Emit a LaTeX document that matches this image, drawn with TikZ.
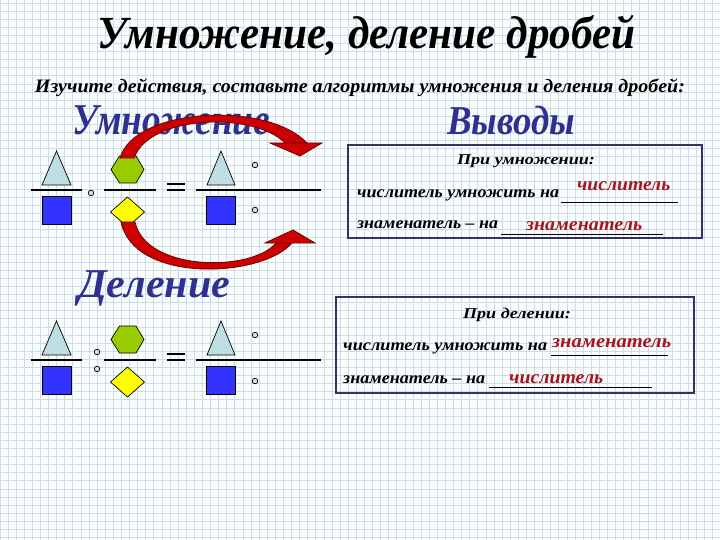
\documentclass[tikz,border=0pt]{standalone}
\usepackage{fontspec}
\setmainfont{Liberation Serif}
\usepackage{graphicx}
\usetikzlibrary{shapes.geometric}
\definecolor{bgc}{RGB}{250,253,253}
\definecolor{gridc}{RGB}{205,220,226}
\definecolor{navy}{RGB}{46,49,146}
\definecolor{redtxt}{RGB}{170,20,30}
\definecolor{tricol}{RGB}{190,222,228}
\definecolor{sqcol}{RGB}{51,51,255}
\definecolor{hexcol}{RGB}{153,204,0}
\definecolor{diacol}{RGB}{255,255,0}
\definecolor{arrfill}{RGB}{204,0,0}
\definecolor{arredge}{RGB}{110,0,0}
\definecolor{boxc}{RGB}{50,50,100}
\definecolor{dotc}{RGB}{215,225,215}
\newcommand\ftxt[3]{\resizebox{#1pt}{\height}{\fontsize{#2pt}{#2pt}\selectfont #3}}
\tikzset{
  txt/.style={inner sep=0pt, font=\bfseries\itshape},
  bigtxt/.style={inner sep=0pt, font=\bfseries\itshape},
  fracline/.style={line width=2.6pt},
  shp/.style={draw=black, line width=0.7pt},
  dotmark/.style={draw=black, fill=dotc, line width=0.7pt},
  arrowbody/.style={fill=arrfill, draw=arredge, line width=0.8pt},
  ublank/.style={line width=0.8pt},
  infobox/.style={draw=boxc, line width=1.3pt}
}
\begin{document}
\begin{tikzpicture}[x=1pt,y=-1pt]
\useasboundingbox (0,0) rectangle (720,540);
\fill[bgc] (0,0) rectangle (720,540);
\foreach \i in {0,...,89} \draw[gridc, line width=0.9pt] (\i*8.1,0) -- (\i*8.1,540);
\foreach \j in {0,...,66} \draw[gridc, line width=0.9pt] (0,\j*8.1+3) -- (720,\j*8.1+3);

% titles
\node[bigtxt, anchor=base] (title) at (367,49) {\ftxt{538}{46}{Умножение, деление дробей}};
\node[txt, anchor=base] (sub) at (360,93) {\ftxt{650}{19}{Изучите действия, составьте алгоритмы умножения и деления дробей:}};
\node[bigtxt, anchor=base west, text=navy] (hmul) at (72,135) {\ftxt{198}{44}{Умножение}};
\node[bigtxt, anchor=base west, text=navy] (hres) at (447,135) {\ftxt{128}{41}{Выводы}};
\node[bigtxt, anchor=base west, text=navy] (hdiv) at (78,297) {\ftxt{152}{41}{Деление}};

% row shapes
\foreach \dy in {0,170}{
\begin{scope}[yshift=-\dy pt]
\draw[fracline] (31,190) -- (82,190);
\draw[shp, fill=tricol] (42,185) -- (71,185) -- (56.5,151) -- cycle;
\draw[shp, fill=sqcol] (42,196) rectangle (71,224);
\draw[fracline] (104,190) -- (156,190);
\draw[shp, fill=hexcol] (111,169.5) -- (119.5,156) -- (136,156) -- (144,169.5) -- (136,183) -- (119.5,183) -- cycle;
\draw[shp, fill=diacol] (110.5,212) -- (127.5,197) -- (144.5,212) -- (127.5,227) -- cycle;
\draw[fracline] (167,184) -- (185,184);
\draw[fracline] (167,190) -- (185,190);
\draw[fracline] (196,190) -- (321,190);
\draw[shp, fill=tricol] (207,185) -- (235,185) -- (221,151) -- cycle;
\draw[shp, fill=sqcol] (206,196) rectangle (235,224);
\draw[dotmark] (255,165) circle (2.8);
\draw[dotmark] (255,\dy*0.006+210) circle (2.8);
\end{scope}}
\draw[dotmark] (91,193) circle (2.8);
\draw[dotmark] (97,352) circle (2.8);
\draw[dotmark] (97,369) circle (2.8);

% arrows
\draw[arrowbody] (120,158) .. controls (134,108) and (266,100) .. (307,143)
  -- (285,143) .. controls (255,112) and (150,114) .. (134,158) -- cycle;
\draw[arrowbody] (270,143) -- (322,143) -- (300,156) -- cycle;
\draw[arrowbody] (121,222) .. controls (134,284) and (262,278) .. (292,243)
  -- (276,243) .. controls (252,272) and (146,272) .. (135,222) -- cycle;
\draw[arrowbody] (265,243) -- (315,243) -- (293,230) -- cycle;

% box 1
\draw[infobox] (348,145) rectangle (702,238);
\node[txt, anchor=base] (pm) at (526,165) {\ftxt{138}{15}{При умножении:}};
\node[txt, anchor=base west] (m1) at (357,198) {\ftxt{202}{16.5}{числитель умножить на}};
\draw[ublank] (561,202) -- (678,202);
\node[txt, anchor=base west, text=redtxt] (m1a) at (577,190) {\ftxt{93}{19}{числитель}};
\node[txt, anchor=base west] (m2) at (357,229) {\ftxt{141}{16.5}{знаменатель – на}};
\draw[ublank] (501,234) -- (663,234);
\node[txt, anchor=base west, text=redtxt] (m2a) at (526,230) {\ftxt{116}{19}{знаменатель}};

% box 2
\draw[infobox] (336,297) rectangle (694,393);
\node[txt, anchor=base] (pd) at (517,318) {\ftxt{108}{15}{При делении:}};
\node[txt, anchor=base west] (d1) at (343,350) {\ftxt{204}{16.5}{числитель умножить на}};
\draw[ublank] (551,355) -- (668,355);
\node[txt, anchor=base west, text=redtxt] (d1a) at (552,347) {\ftxt{119}{19}{знаменатель}};
\node[txt, anchor=base west] (d2) at (343,383) {\ftxt{142}{16.5}{знаменатель – на}};
\draw[ublank] (489,387) -- (652,387);
\node[txt, anchor=base west, text=redtxt] (d2a) at (509,383) {\ftxt{94}{19}{числитель}};
\end{tikzpicture}
\end{document}
